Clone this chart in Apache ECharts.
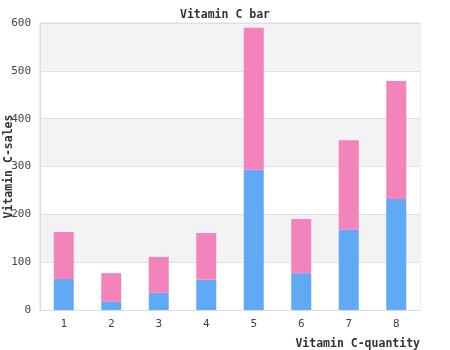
<!DOCTYPE html>
<html>
<head>
<meta charset="utf-8">
<script src="https://cdn.jsdelivr.net/npm/echarts@6/dist/echarts.min.js"></script>
<style>html,body{margin:0;padding:0;background:#fff}#c{width:450px;height:350px}</style>
</head>
<body>
<div id="c"></div>
<script>
var categories = ['1','2','3','4','5','6','7','8'];
var blueValues = [65, 17, 36, 63, 293, 77, 168, 232];
var pinkValues = [98, 60, 75, 98, 297, 113, 187, 247];
var yTicks = {min: 0, max: 600, interval: 100};

var chart = echarts.init(document.getElementById('c'));
var mono = '"DejaVu Sans Mono", monospace';
chart.setOption({
  animation: false,
  title: {
    text: 'Vitamin C bar', left: 'center', top: 4,
    textStyle: {fontFamily: mono, fontSize: 11.5, fontWeight: 'bold', color: '#333'}
  },
  grid: {left: 40, right: 30, top: 23, bottom: 40, show: true, borderColor: '#ddd', borderWidth: 1, backgroundColor: 'transparent', containLabel: false, outerBoundsMode: 'none'},
  xAxis: {
    type: 'category', data: categories,
    axisLine: {show: true, lineStyle: {color: '#ddd'}},
    axisTick: {show: false},
    axisLabel: {fontFamily: mono, fontSize: 11, color: '#444', margin: 9},
    name: 'Vitamin C-quantity', nameLocation: 'end', nameGap: 0, nameMoveOverlap: false,
    nameTextStyle: {fontFamily: mono, fontSize: 11.5, fontWeight: 'bold', color: '#333', align: 'right', verticalAlign: 'top', padding: [28, 0, 0, 0]}
  },
  yAxis: {
    type: 'value', min: yTicks.min, max: yTicks.max, interval: yTicks.interval,
    axisLine: {show: true, lineStyle: {color: '#ddd'}},
    axisTick: {show: false},
    axisLabel: {fontFamily: mono, fontSize: 11, color: '#444', margin: 9},
    splitLine: {show: true, lineStyle: {color: '#e0e0e0'}},
    splitArea: {show: true, areaStyle: {color: ['#ffffff', '#f3f3f3']}},
    name: 'Vitamin C-sales', nameLocation: 'middle', nameGap: 25, nameMoveOverlap: false,
    nameTextStyle: {fontFamily: mono, fontSize: 11.5, fontWeight: 'bold', color: '#333'}
  },
  series: [
    {type: 'bar', stack: 's', data: blueValues, barWidth: 20, itemStyle: {color: '#60a9f5'}},
    {type: 'bar', stack: 's', data: pinkValues, barWidth: 20, itemStyle: {color: '#f284bb'}}
  ]
});
</script>
</body>
</html>
